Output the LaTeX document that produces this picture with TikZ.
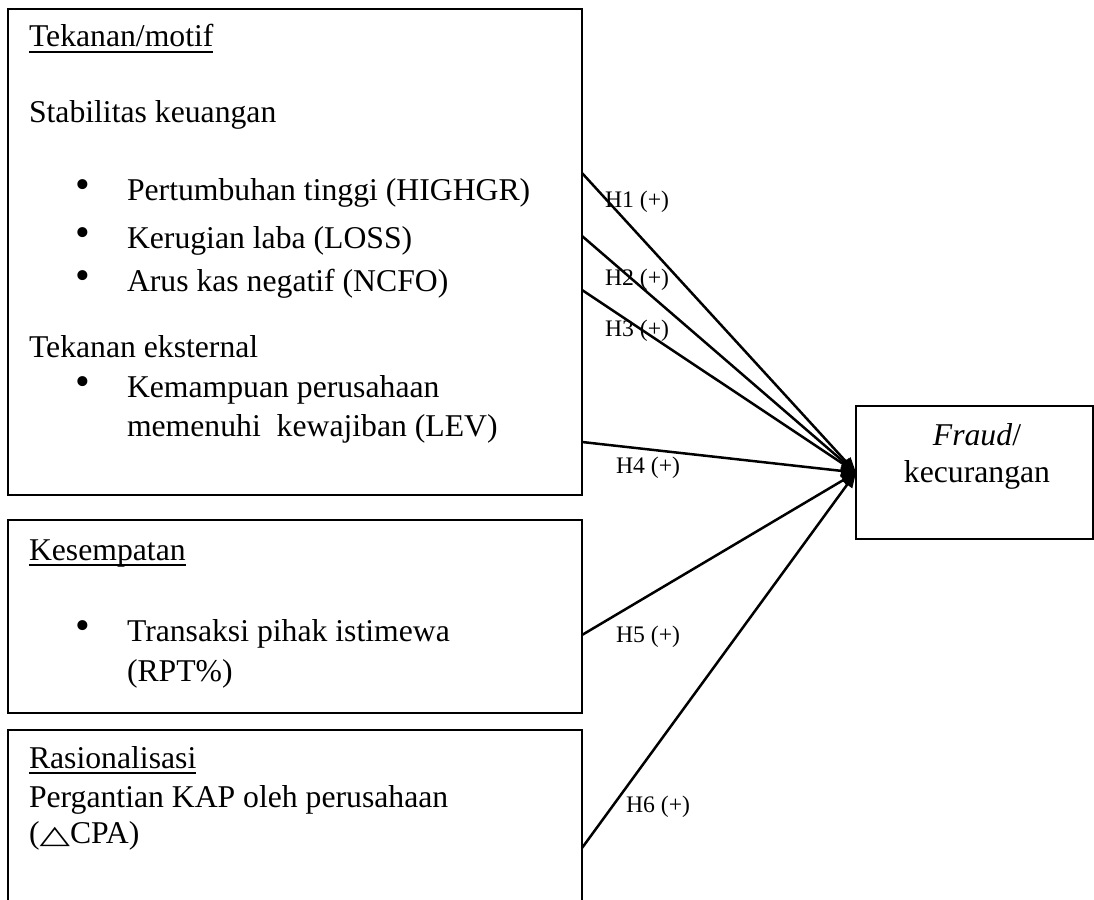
\documentclass[tikz,border=0pt]{standalone}
\usepackage{fontspec}
\setmainfont{Liberation Serif}
\newfontfamily\symfont{DejaVu Sans}
\usetikzlibrary{arrows.meta}
\begin{document}
\begin{tikzpicture}[x=1pt,y=-1pt,
  box/.style={draw,line width=2pt,anchor=north west,inner sep=0pt,outer sep=0pt},
  txt/.style={anchor=base west,inner sep=0pt,outer sep=0pt,font=\fontsize{31.7}{38}\selectfont},
  ctxt/.style={anchor=base,inner sep=0pt,outer sep=0pt,font=\fontsize{31.7}{38}\selectfont},
  bul/.style={anchor=base,inner sep=0pt,outer sep=0pt,font=\fontsize{42}{48}\selectfont},
  lbl/.style={anchor=base west,inner sep=0pt,outer sep=0pt,font=\fontsize{23.7}{28}\selectfont},
  ul/.style={line width=1.8pt},
  arr/.style={line width=2.5pt,-{Triangle[length=15pt,width=12pt]}}]
\useasboundingbox (0,0) rectangle (1094,899);
\clip (0,0) rectangle (1094,899);
% boxes
\node[box,minimum width=574pt,minimum height=486pt] (b1) at (8,9) {};
\node[box,minimum width=574pt,minimum height=193pt] (b2) at (8,520) {};
\node[box,minimum width=574pt,minimum height=200pt] (b3) at (8,730) {};
\node[box,minimum width=237pt,minimum height=133pt] (fr) at (856,406) {};
% box 1 text
\node[txt] (t1) at (29,47) {Tekanan/motif};
\draw[ul] ([yshift=-5pt]t1.base west) -- ([yshift=-5pt]t1.base east);
\node[txt] (t2) at (29,122) {Stabilitas keuangan};
\node[bul] (u1) at (83,198) {•};
\node[txt] (t3) at (127,200) {Pertumbuhan tinggi (HIGHGR)};
\node[bul] (u2) at (83,246) {•};
\node[txt] (t4) at (127,248) {Kerugian laba (LOSS)};
\node[bul] (u3) at (83,289) {•};
\node[txt] (t5) at (127,291) {Arus kas negatif (NCFO)};
\node[txt] (t6) at (29,357) {Tekanan eksternal};
\node[bul] (u4) at (83,395) {•};
\node[txt] (t7) at (127,397) {Kemampuan perusahaan};
\node[txt] (t8) at (127,436) {memenuhi\ \ kewajiban (LEV)};
% box 2 text
\node[txt] (t9) at (29,560) {Kesempatan};
\draw[ul] ([yshift=-5pt]t9.base west) -- ([yshift=-5pt]t9.base east);
\node[bul] (u5) at (83,639) {•};
\node[txt] (t10) at (127,641) {Transaksi pihak istimewa};
\node[txt] (t11) at (127,681) {(RPT\%)};
% box 3 text
\node[txt] (t12) at (29,768) {Rasionalisasi};
\draw[ul] ([yshift=-5pt]t12.base west) -- ([yshift=-5pt]t12.base east);
\node[txt] (t13) at (29,807) {Pergantian KAP oleh perusahaan};
\node[txt] (t14) at (29,843) {(\scalebox{1.25}[0.8]{\symfont △}CPA)};
% fraud text
\node[ctxt] (f1) at (977,445) {\textit{Fraud}/};
\node[ctxt] (f2) at (977,482) {kecurangan};
% connector start points
\coordinate (p1) at (582,173);
\coordinate (p2) at (582,236);
\coordinate (p3) at (582,290);
\coordinate (p4) at (582,442);
\coordinate (p5) at (582,635);
\coordinate (p6) at (582,848);
\draw[arr] (p1) -- (fr.west);
\draw[arr] (p2) -- (fr.west);
\draw[arr] (p3) -- (fr.west);
\draw[arr] (p4) -- (fr.west);
\draw[arr] (p5) -- (fr.west);
\draw[arr] (p6) -- (fr.west);
% labels
\node[lbl] (h1) at (605,207) {H1 (+)};
\node[lbl] (h2) at (605,285) {H2 (+)};
\node[lbl] (h3) at (605,336) {H3 (+)};
\node[lbl] (h4) at (616,473) {H4 (+)};
\node[lbl] (h5) at (616,642) {H5 (+)};
\node[lbl] (h6) at (626,812) {H6 (+)};
\end{tikzpicture}
\end{document}
